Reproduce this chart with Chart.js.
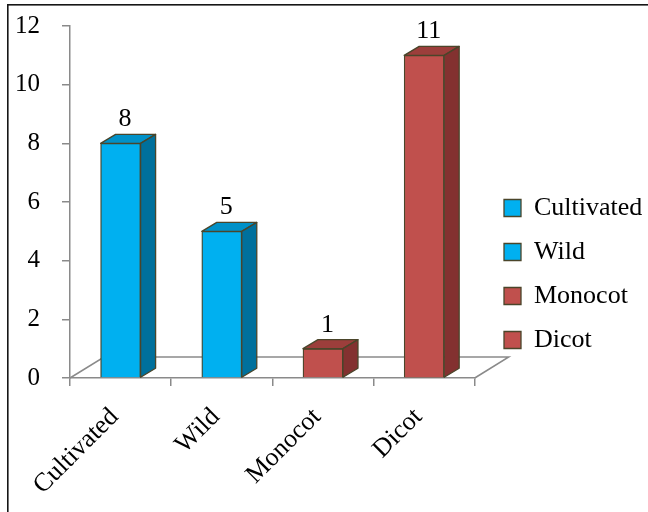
<!DOCTYPE html>
<html>
<head>
<meta charset="utf-8">
<script src="https://cdn.jsdelivr.net/npm/chart.js@4.4.1/dist/chart.umd.min.js"></script>
<style>
html, body { margin: 0; padding: 0; background: #fff; }
#wrap { position: relative; width: 648px; height: 512px; }
</style>
</head>
<body>
<div id="wrap"><canvas id="c" width="648" height="512"></canvas></div>
<script>
// ---- data ----
const categories = ['Cultivated', 'Wild', 'Monocot', 'Dicot'];
const seriesNames = ['Cultivated', 'Wild', 'Monocot', 'Dicot'];
const values = [8, 5, 1, 11];
const yTicks = [0, 2, 4, 6, 8, 10, 12];

// ---- styles ----
const frontColors = ['#00B0F0', '#00B0F0', '#C0504D', '#C0504D'];
const topColors = ['#0091C8', '#0091C8', '#9C3E3B', '#9C3E3B'];
const sideColors = ['#00709C', '#00709C', '#833130', '#833130'];
const edgeColor = '#4A452A';
const axisColor = '#8A8A8A';
const serif = '"Liberation Serif", "Times New Roman", serif';
const DX = 15, DY = -9;          // bar depth
const FX = 34, FY = -21;         // floor depth

const datasets = seriesNames.map((name, i) => ({
  label: name,
  data: categories.map((c, j) => (j === i ? values[i] : null)),
  backgroundColor: frontColors[i],
  borderColor: edgeColor,
  borderWidth: 1.3,
  topColor: topColors[i],
  sideColor: sideColors[i]
}));

const threeD = {
  id: 'threeD',
  beforeDraw(chart) {
    const ctx = chart.ctx;
    ctx.save();
    ctx.fillStyle = '#ffffff';
    ctx.fillRect(0, 0, chart.width, chart.height);
    ctx.fillStyle = '#161616';
    ctx.fillRect(7, 4, chart.width - 7, 1.6);
    ctx.fillRect(7, 4, 1.6, chart.height - 4);
    ctx.restore();
  },
  afterLayout(chart) {
    const lg = chart.legend;
    if (!lg) return;
    const w = lg.width, h = lg.height;
    lg.left = 486; lg.right = lg.left + w;
    lg.top = 177; lg.bottom = lg.top + h;
  },
  beforeDatasetsDraw(chart) {
    const ctx = chart.ctx;
    const a = chart.chartArea;
    const y0 = chart.scales.y.getPixelForValue(0);
    ctx.save();
    ctx.strokeStyle = axisColor;
    ctx.lineWidth = 1.5;
    ctx.beginPath();
    ctx.moveTo(a.left, y0);
    ctx.lineTo(a.left + FX, y0 + FY);
    ctx.lineTo(a.right + FX, y0 + FY);
    ctx.lineTo(a.right, y0);
    ctx.stroke();
    ctx.restore();
  },
  afterDatasetsDraw(chart) {
    const ctx = chart.ctx;
    ctx.save();
    ctx.lineJoin = 'round';
    chart.data.datasets.forEach((ds, di) => {
      const meta = chart.getDatasetMeta(di);
      meta.data.forEach((el, idx) => {
        const v = ds.data[idx];
        if (v === null || v === undefined) return;
        const p = el.getProps(['x', 'y', 'base', 'width'], true);
        const l = p.x - p.width / 2, r = p.x + p.width / 2;
        // top face
        ctx.beginPath();
        ctx.moveTo(l, p.y);
        ctx.lineTo(l + DX, p.y + DY);
        ctx.lineTo(r + DX, p.y + DY);
        ctx.lineTo(r, p.y);
        ctx.closePath();
        ctx.fillStyle = ds.topColor;
        ctx.fill();
        ctx.strokeStyle = edgeColor;
        ctx.lineWidth = 1.3;
        ctx.stroke();
        // side face
        ctx.beginPath();
        ctx.moveTo(r, p.y);
        ctx.lineTo(r + DX, p.y + DY);
        ctx.lineTo(r + DX, p.base + DY);
        ctx.lineTo(r, p.base);
        ctx.closePath();
        ctx.fillStyle = ds.sideColor;
        ctx.fill();
        ctx.stroke();
        // value label
        ctx.fillStyle = '#000';
        ctx.font = '26px ' + serif;
        ctx.textAlign = 'center';
        ctx.textBaseline = 'alphabetic';
        ctx.fillText(String(v), p.x + DX / 2 - 3, p.y + DY - 8);
      });
    });
    ctx.restore();
  }
};

new Chart(document.getElementById('c'), {
  type: 'bar',
  data: { labels: categories, datasets: datasets },
  options: {
    responsive: false,
    animation: false,
    devicePixelRatio: 1,
    skipNull: true,
    datasets: { bar: { barThickness: 40 } },
    layout: { padding: { left: 0, right: 15, top: 26, bottom: 0 } },
    scales: {
      x: {
        grid: { drawOnChartArea: false, drawTicks: true, tickLength: 8, color: axisColor, lineWidth: 1.5, offset: true },
        border: { color: axisColor, width: 1.5 },
        ticks: {
          autoSkip: false, minRotation: 45, maxRotation: 45, padding: 16, labelOffset: -6,
          color: '#000', font: { family: serif, size: 26 }
        },
        afterFit(s) { s.height = 134; s.paddingLeft = 0; s.paddingRight = 0; }
      },
      y: {
        min: 0, max: 12,
        afterBuildTicks(s) { s.ticks = yTicks.map(v => ({ value: v })); },
        grid: { drawOnChartArea: false, drawTicks: true, tickLength: 8, color: axisColor, lineWidth: 1.5 },
        border: { color: axisColor, width: 1.5 },
        ticks: { padding: 22, color: '#000', font: { family: serif, size: 25 } },
        afterFit(s) { s.width = 70; s.paddingTop = 0; s.paddingBottom = 0; }
      }
    },
    plugins: {
      legend: {
        position: 'right',
        align: 'start',
        labels: {
          boxWidth: 17, boxHeight: 17, padding: 18,
          color: '#000', font: { family: serif, size: 26 }
        }
      },
      tooltip: { enabled: false },
      title: { display: false }
    }
  },
  plugins: [threeD]
});
</script>
</body>
</html>
